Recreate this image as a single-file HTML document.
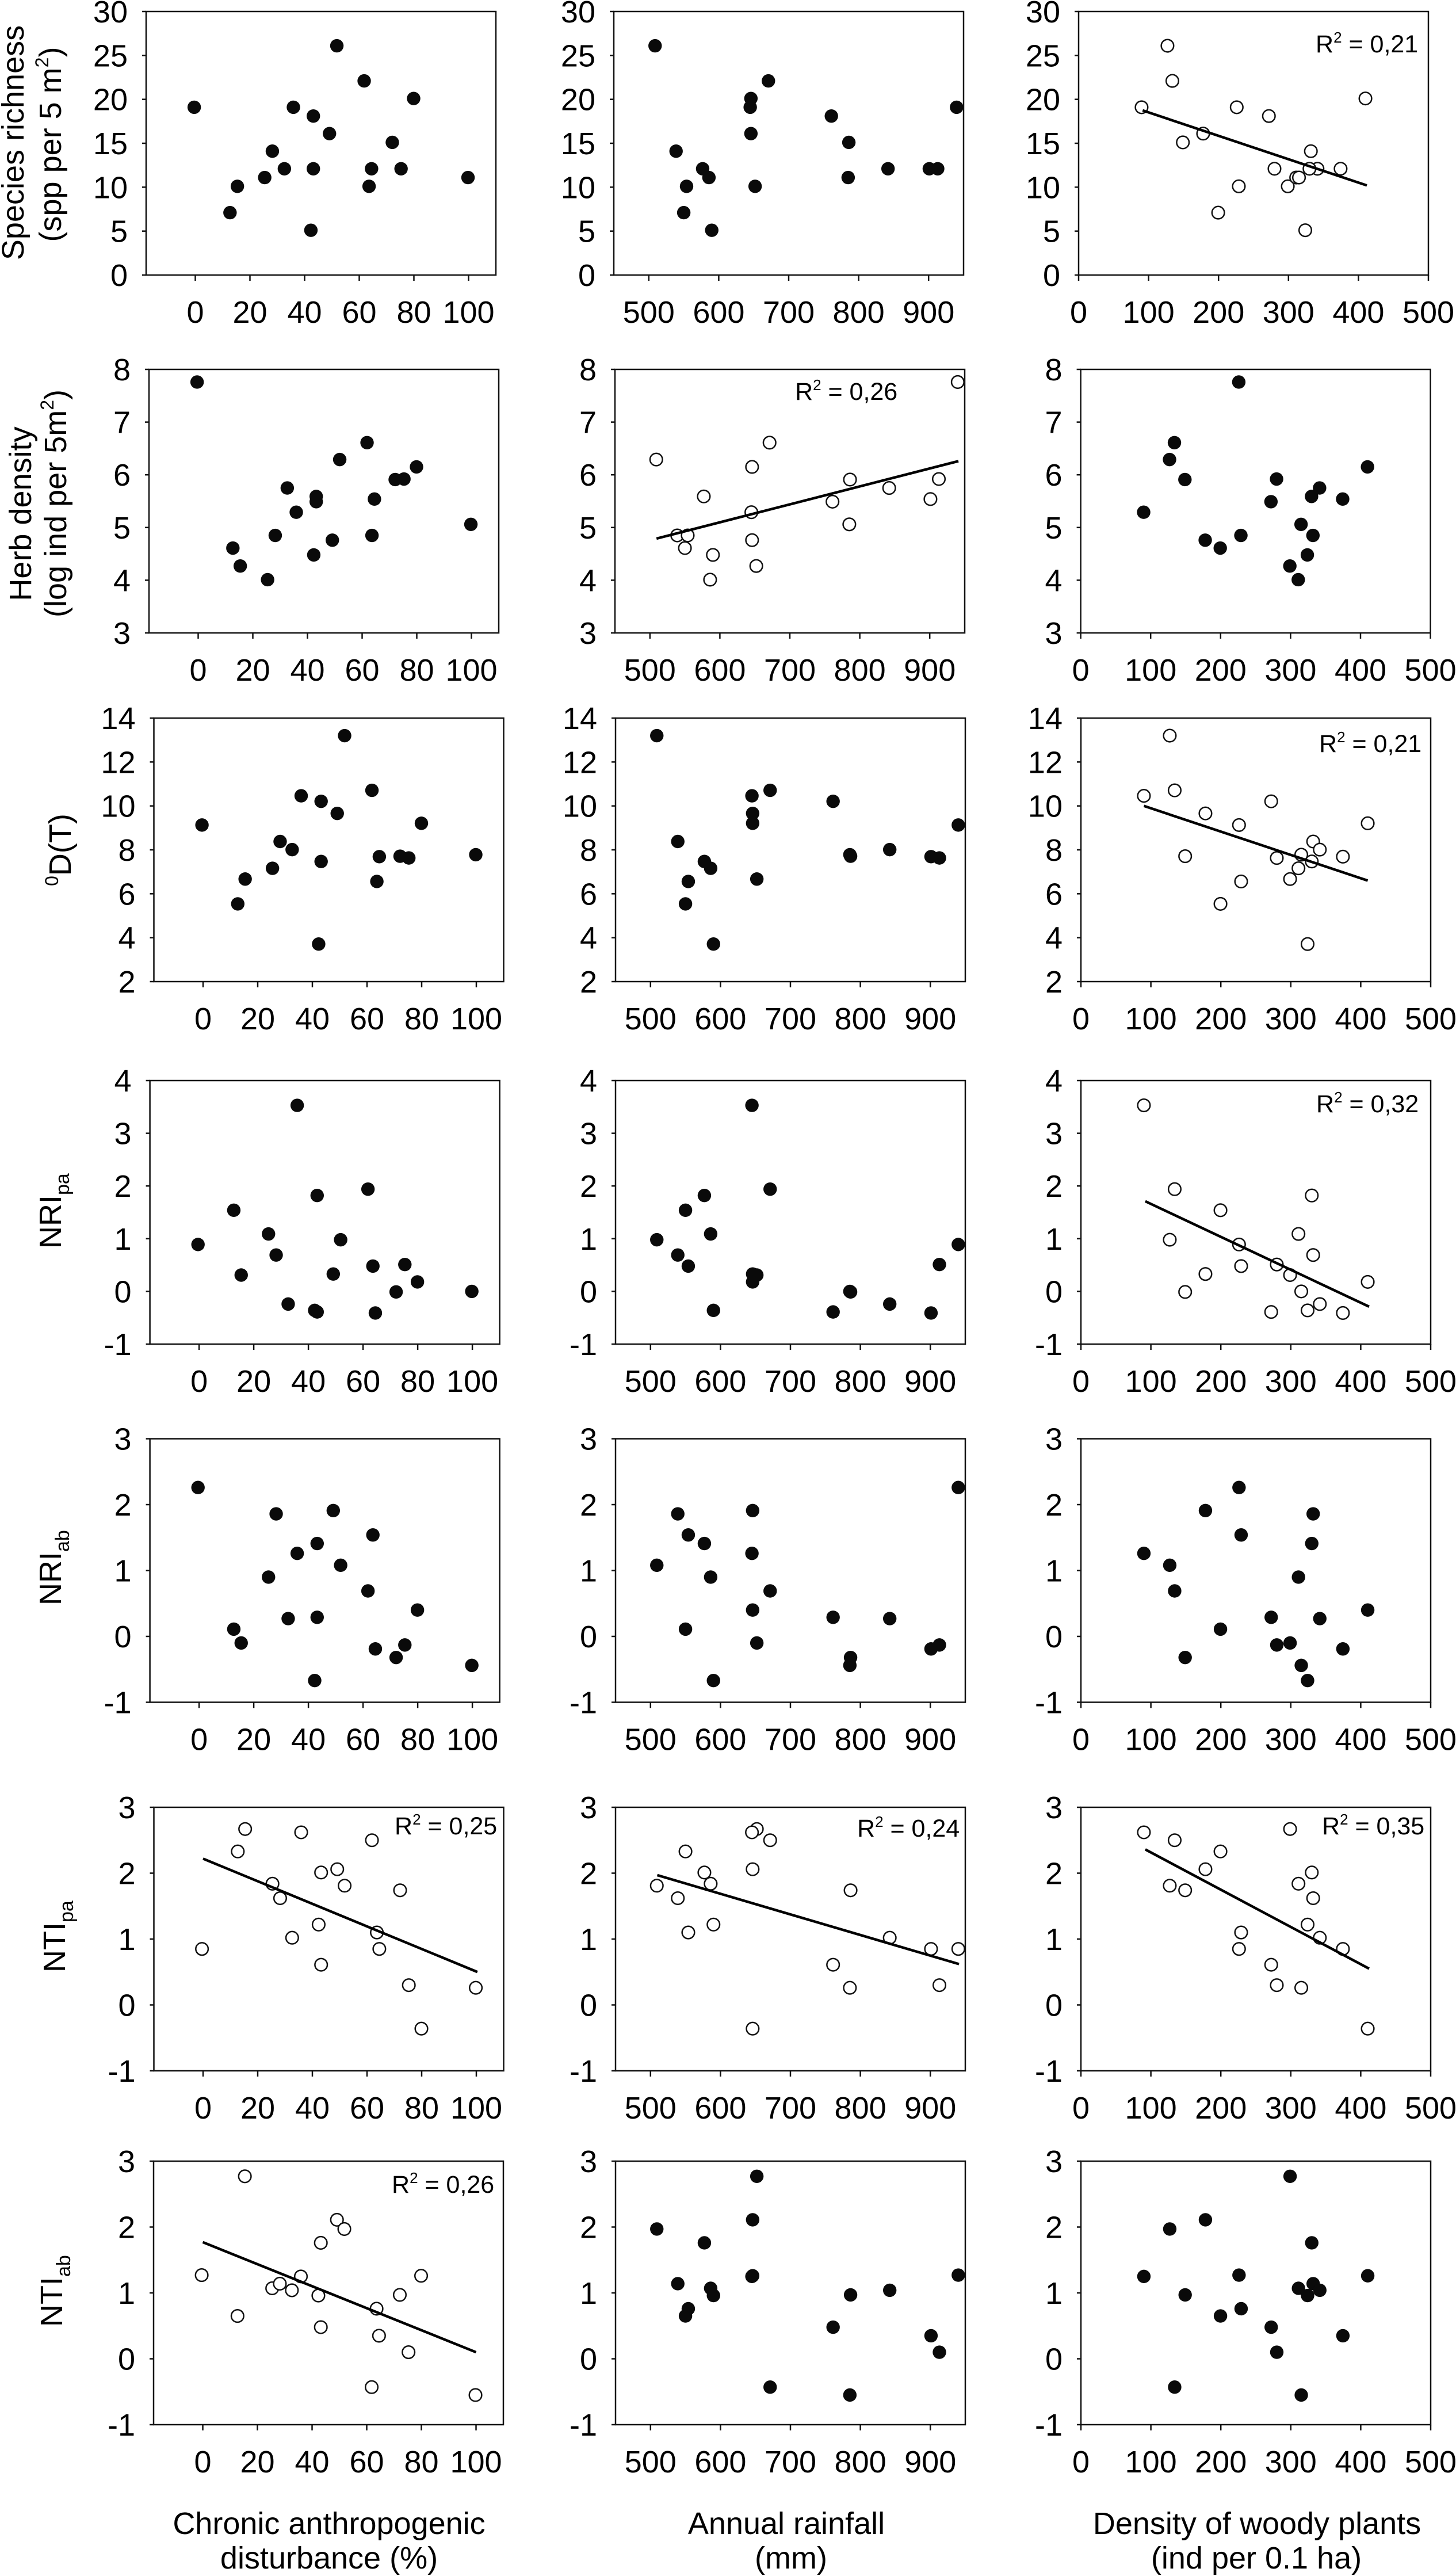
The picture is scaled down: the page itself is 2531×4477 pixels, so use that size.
<!DOCTYPE html>
<html lang="en">
<head>
<meta charset="utf-8">
<title>Phylogenetic diversity scatterplot matrix</title>
<style>
html,body{margin:0;padding:0;background:#fff;}
svg{display:block;}
text{font-family:"Liberation Sans",Arial,sans-serif;fill:#000;}
</style>
</head>
<body>
<svg id="chart" xmlns="http://www.w3.org/2000/svg" width="2531" height="4477" viewBox="0 0 2531 4477">
  <rect x="0" y="0" width="2531" height="4477" fill="#fff"/>
  <g font-size="54">
    <text transform="translate(41,248) rotate(-90)" text-anchor="middle">Species richness</text>
    <text transform="translate(106,251) rotate(-90)" text-anchor="middle">(spp per 5 m<tspan font-size="32" dy="-22">2</tspan><tspan dy="22">)</tspan></text>
    <text transform="translate(54,893) rotate(-90)" text-anchor="middle">Herb density</text>
    <text transform="translate(115,875) rotate(-90)" text-anchor="middle">(log ind per 5m<tspan font-size="32" dy="-22">2</tspan><tspan dy="22">)</tspan></text>
    <text transform="translate(123,1477) rotate(-90)" text-anchor="middle"><tspan font-size="32" dy="-22">0</tspan><tspan dy="22">D(T)</tspan></text>
    <text transform="translate(106,2170) rotate(-90)">NRI<tspan font-size="34" dy="14">pa</tspan></text>
    <text transform="translate(106,2790) rotate(-90)">NRI<tspan font-size="34" dy="14">ab</tspan></text>
    <text transform="translate(113,3428) rotate(-90)">NTI<tspan font-size="34" dy="14">pa</tspan></text>
    <text transform="translate(108,4044) rotate(-90)">NTI<tspan font-size="34" dy="14">ab</tspan></text>
  </g>
  <g font-size="54" text-anchor="middle">
    <text x="572" y="4404">Chronic anthropogenic</text>
    <text x="572" y="4464">disturbance (%)</text>
    <text x="1367" y="4404">Annual rainfall</text>
    <text x="1375" y="4464">(mm)</text>
    <text x="2185" y="4404">Density of woody plants</text>
    <text x="2184" y="4464">(ind per 0.1 ha)</text>
  </g>
</svg>
<script>
// Predictor values per site
const disturbance = [-0.4,12.7,15.4,25.4,28.2,32.6,35.9,42.3,43.2,43.2,49.1,51.8,61.8,63.6,64.5,72.1,75.3,79.9,99.8];
const rainfall = [940,550,652,586,539,842,645,590,577,761,646,509,671,554,901,786,913,646,785];
const woodyDensity = [226,199.5,299,311,332,341.5,90,324,330,272,178,127,134,229,374.5,149,280,410,315];

// Response values per site
const richness = [19.1,7.1,10.1,11.1,14.1,12.1,19.1,5.1,12.1,18.1,16.1,26.1,22.1,10.1,12.1,15.1,12.1,20.1,11.1];
const herbDensity = [7.76,4.61,4.27,4.01,4.85,5.75,5.29,4.48,5.59,5.49,4.76,6.29,6.61,4.85,5.54,5.91,5.92,6.15,5.06];
const taxonomicD = [9.13,5.54,6.67,7.16,8.38,8.01,10.46,3.71,7.47,10.21,9.66,13.2,10.71,6.56,7.69,7.71,7.63,9.21,7.78];
const nriPa = [0.89,1.54,0.31,1.09,0.69,-0.24,3.53,-0.36,1.82,-0.39,0.33,0.98,1.94,0.48,-0.41,-0.01,0.51,0.18,0.0];
const nriAb = [2.26,0.11,-0.10,0.90,1.86,0.27,1.26,-0.67,1.41,0.29,1.91,1.08,0.69,1.54,-0.19,-0.32,-0.13,0.40,-0.44];
const ntiPa = [0.85,2.33,2.67,1.84,1.62,1.02,2.62,1.22,2.01,0.61,2.06,1.81,2.50,1.10,0.85,1.74,0.30,-0.36,0.26];
const ntiAb = [1.27,0.65,2.77,1.07,1.14,1.04,1.25,0.96,1.76,0.48,2.11,1.97,-0.43,0.76,0.35,0.97,0.10,1.26,-0.55];

// Tick labels
const ticksRichness = [0,5,10,15,20,25,30];
const ticksHerb = [3,4,5,6,7,8];
const ticksD = [2,4,6,8,10,12,14];
const ticksNriPa = [-1,0,1,2,3,4];
const ticksNriAb = [-1,0,1,2,3];
const ticksNtiPa = [-1,0,1,2,3];
const ticksNtiAb = [-1,0,1,2,3];
const ticksDisturbance = [0,20,40,60,80,100];
const ticksRainfall = [500,600,700,800,900];
const ticksWoody = [0,100,200,300,400,500];

// Significant regressions: x1, y1, x2, y2 in data units
const fitRichnessWoody = [91.5,18.74,412,10.2];
const fitHerbRainfall = [509.4,4.79,941,6.26];
const fitDWoody = [90,10.0,410,6.6];
const fitNriPaWoody = [92,1.71,412,-0.29];
const fitNtiPaDisturbance = [0,2.22,100.4,0.50];
const fitNtiPaRainfall = [509.6,1.97,941,0.62];
const fitNtiPaWoody = [92,2.36,412,0.55];
const fitNtiAbDisturbance = [0,1.77,100,0.10];

// R-squared values printed on the panels
const r2RichnessWoody = "0,21";
const r2HerbRainfall = "0,26";
const r2DWoody = "0,21";
const r2NriPaWoody = "0,32";
const r2NtiPaDisturbance = "0,25";
const r2NtiPaRainfall = "0,24";
const r2NtiPaWoody = "0,35";
const r2NtiAbDisturbance = "0,26";

const responses = [
  {key:'richness', values:richness, ticks:ticksRichness},
  {key:'herb-density', values:herbDensity, ticks:ticksHerb},
  {key:'taxonomic-d', values:taxonomicD, ticks:ticksD},
  {key:'nri-pa', values:nriPa, ticks:ticksNriPa},
  {key:'nri-ab', values:nriAb, ticks:ticksNriAb},
  {key:'nti-pa', values:ntiPa, ticks:ticksNtiPa},
  {key:'nti-ab', values:ntiAb, ticks:ticksNtiAb}
];
const predictors = [
  {key:'disturbance', values:disturbance, ticks:ticksDisturbance, domain:[-18,110]},
  {key:'rainfall', values:rainfall, ticks:ticksRainfall, domain:[450,950]},
  {key:'woody-density', values:woodyDensity, ticks:ticksWoody, domain:[0,500]}
];
const fits = {
  '0-2':{fit:fitRichnessWoody, r2:r2RichnessWoody},
  '1-1':{fit:fitHerbRainfall, r2:r2HerbRainfall},
  '2-2':{fit:fitDWoody, r2:r2DWoody},
  '3-2':{fit:fitNriPaWoody, r2:r2NriPaWoody},
  '5-0':{fit:fitNtiPaDisturbance, r2:r2NtiPaDisturbance},
  '5-1':{fit:fitNtiPaRainfall, r2:r2NtiPaRainfall},
  '5-2':{fit:fitNtiPaWoody, r2:r2NtiPaWoody},
  '6-0':{fit:fitNtiAbDisturbance, r2:r2NtiAbDisturbance}
};

// Page layout
const rowTop = [20,642,1248,1878,2500.5,3141,3756];
const colLeft = [
  [254,259,267.5,260.6,260.6,267.5,267],
  [1067,1069,1070,1070,1070,1070,1070],
  [1875,1878.6,1879,1879,1879,1879,1879]
];
const boxW = 608, boxH = 458;
const r2Anchor = {
  '0-2':[2287,91],'1-1':[1382,695],'2-2':[2293,1307],'3-2':[2288,1933],
  '5-0':[686,3188],'5-1':[1490,3192],'5-2':[2298,3188],'6-0':[681,3811]
};

const NS = 'http://www.w3.org/2000/svg';
const svg = document.getElementById('chart');
function make(tag, parent){
  const el = document.createElementNS(NS, tag);
  parent.appendChild(el);
  return el;
}
function scale(d0,d1,r0,r1){ return v => r0 + (v-d0)/(d1-d0)*(r1-r0); }

responses.forEach((resp, r) => {
  predictors.forEach((pred, c) => {
    const left = colLeft[c][r], top = rowTop[r];
    const xs = scale(pred.domain[0], pred.domain[1], left, left + boxW);
    const yMin = resp.ticks[0], yMax = resp.ticks[resp.ticks.length-1];
    const ys = scale(yMin, yMax, top + boxH, top);
    const info = fits[r + '-' + c];

    const g = make('g', svg);
    
    

    const box = make('rect', g);
    
    
    box.setAttribute('x', left);
    box.setAttribute('y', top);
    box.setAttribute('width', boxW);
    box.setAttribute('height', boxH);
    box.setAttribute('fill', 'none');
    box.setAttribute('stroke', '#111');
    box.setAttribute('stroke-width', '2.5');

    resp.ticks.forEach(t => {
      const tk = make('line', g);
      
      
      tk.setAttribute('x1', left - 7);
      tk.setAttribute('x2', left);
      tk.setAttribute('y1', ys(t));
      tk.setAttribute('y2', ys(t));
      tk.setAttribute('stroke', '#111');
      tk.setAttribute('stroke-width', '2.5');
      const lb = make('text', g);
      
      
      lb.setAttribute('x', left - 32);
      lb.setAttribute('y', ys(t) + 19);
      lb.setAttribute('font-size', '54');
      lb.setAttribute('text-anchor', 'end');
      lb.textContent = t;
    });

    pred.ticks.forEach(t => {
      const tk = make('line', g);
      
      
      tk.setAttribute('x1', xs(t));
      tk.setAttribute('x2', xs(t));
      tk.setAttribute('y1', top + boxH);
      tk.setAttribute('y2', top + boxH + 10);
      tk.setAttribute('stroke', '#111');
      tk.setAttribute('stroke-width', '2.5');
      const lb = make('text', g);
      
      
      lb.setAttribute('x', xs(t));
      lb.setAttribute('y', top + boxH + 83);
      lb.setAttribute('font-size', '54');
      lb.setAttribute('text-anchor', 'middle');
      lb.textContent = t;
    });

    pred.values.forEach((xv, i) => {
      const pt = make('circle', g);
      
      
      pt.setAttribute('cx', xs(xv));
      pt.setAttribute('cy', ys(resp.values[i]));
      if (info) {
        pt.setAttribute('r', '10.8');
        pt.setAttribute('fill', '#fff');
        pt.setAttribute('stroke', '#111');
        pt.setAttribute('stroke-width', '2.5');
      } else {
        pt.setAttribute('r', '11.7');
        pt.setAttribute('fill', '#0a0a0a');
      }
    });

    if (info) {
      const ln = make('line', g);
      
      
      ln.setAttribute('x1', xs(info.fit[0]));
      ln.setAttribute('y1', ys(info.fit[1]));
      ln.setAttribute('x2', xs(info.fit[2]));
      ln.setAttribute('y2', ys(info.fit[3]));
      ln.setAttribute('stroke', '#000');
      ln.setAttribute('stroke-width', '4.5');

      const pos = r2Anchor[r + '-' + c];
      const tx = make('text', g);
      
      
      tx.setAttribute('x', pos[0]);
      tx.setAttribute('y', pos[1]);
      tx.setAttribute('font-size', '43');
      const a = make('tspan', tx);
      a.textContent = 'R';
      const b = make('tspan', tx);
      b.setAttribute('font-size', '26');
      b.setAttribute('dy', '-17');
      b.textContent = '2';
      const d = make('tspan', tx);
      d.setAttribute('dy', '17');
      d.textContent = ' = ' + info.r2;
    }
  });
});
</script>
</body>
</html>
